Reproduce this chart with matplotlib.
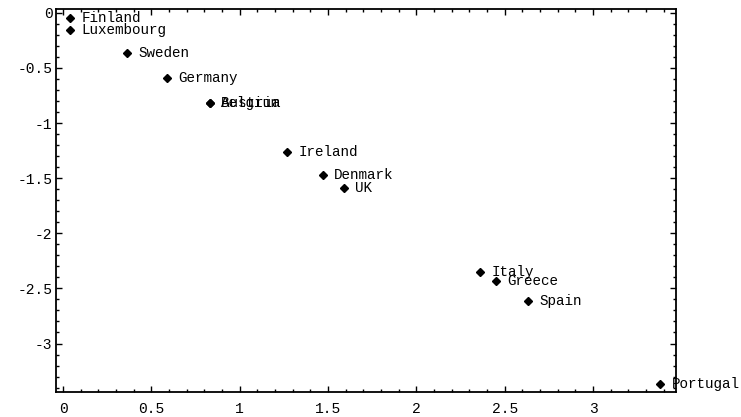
import matplotlib
matplotlib.use("Agg")
import matplotlib.pyplot as plt
from matplotlib.ticker import MultipleLocator, FuncFormatter

countries = ["Finland", "Luxembourg", "Sweden", "Germany", "Belgium", "Austria",
             "Ireland", "Denmark", "UK", "Italy", "Greece", "Spain", "Portugal"]
x_vals = [0.04, 0.04, 0.36, 0.59, 0.83, 0.83, 1.27, 1.47, 1.59, 2.36, 2.45, 2.63, 3.38]
y_vals = [-0.05, -0.16, -0.36, -0.59, -0.82, -0.82, -1.26, -1.47, -1.59, -2.35, -2.43, -2.61, -3.37]

FONT = "Liberation Mono"

fig = plt.figure(figsize=(7.41, 4.17), dpi=100)
ax = fig.add_axes([56 / 741, 1 - 392 / 417, (676 - 56) / 741, (392 - 9) / 417])

ax.plot(x_vals, y_vals, linestyle="none", marker="D", markersize=4.0,
        color="black", clip_on=False)
for name, xv, yv in zip(countries, x_vals, y_vals):
    ax.annotate(name, (xv, yv), xytext=(8.2, 0), textcoords="offset points",
                va="center", ha="left", fontsize=10.3, family=FONT,
                color="black", annotation_clip=False)

ax.set_xlim(-0.04, 3.47)
ax.set_ylim(-3.44, 0.035)

ax.xaxis.set_major_locator(MultipleLocator(0.5))
ax.xaxis.set_minor_locator(MultipleLocator(0.1))
ax.yaxis.set_major_locator(MultipleLocator(0.5))
ax.yaxis.set_minor_locator(MultipleLocator(0.1))

def fmt(v, pos):
    if abs(v - round(v)) < 1e-9:
        return "%d" % round(v)
    return ("%.1f" % v)

ax.xaxis.set_major_formatter(FuncFormatter(fmt))
ax.yaxis.set_major_formatter(FuncFormatter(fmt))

ax.tick_params(which="both", direction="in", top=True, right=True,
               color="black", width=1.0)
ax.tick_params(which="major", length=4, labelsize=10.5)
ax.tick_params(axis="x", which="major", pad=7)
ax.tick_params(axis="y", which="major", pad=2.5)
ax.tick_params(which="minor", length=2.2)
for lab in ax.get_xticklabels() + ax.get_yticklabels():
    lab.set_family(FONT)

for sp in ax.spines.values():
    sp.set_linewidth(1.3)
    sp.set_color("black")

fig.savefig("out.png", dpi=100)
